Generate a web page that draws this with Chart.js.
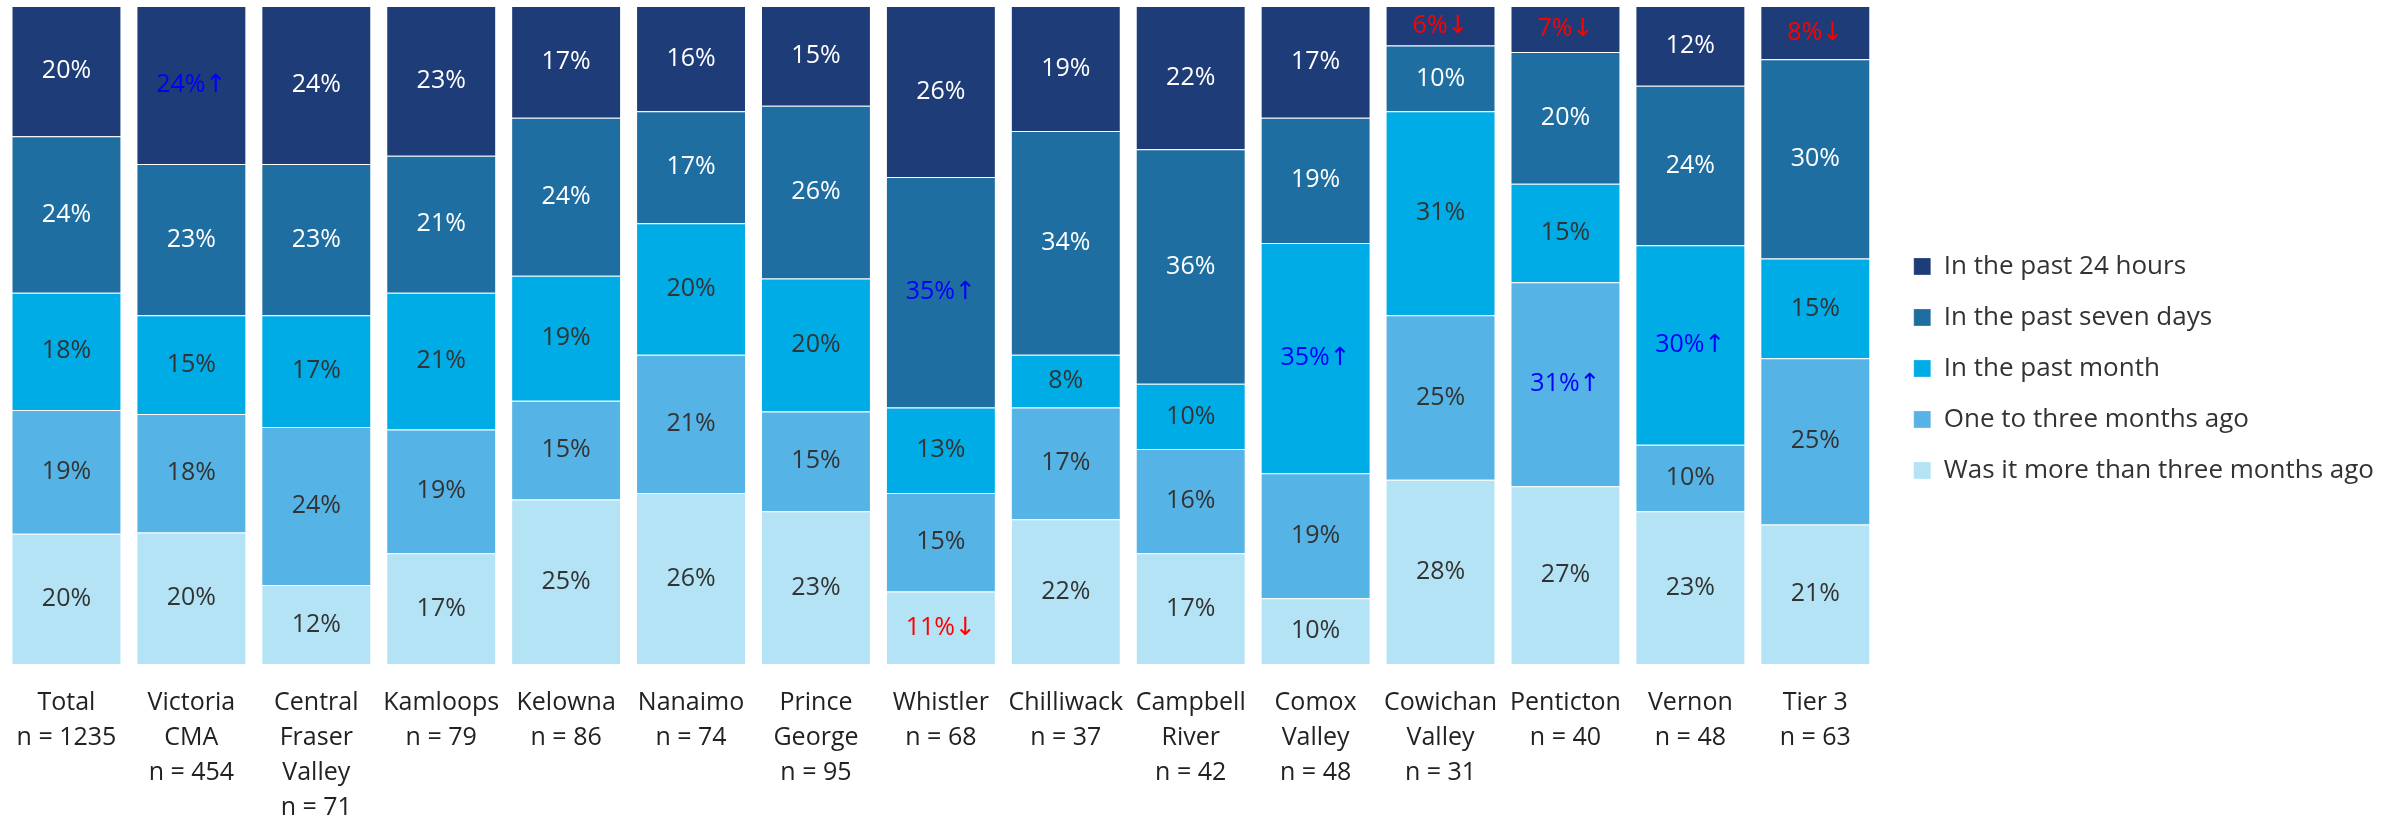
<!DOCTYPE html>
<html>
<head>
<meta charset="utf-8">
<script src="https://cdn.jsdelivr.net/npm/chart.js@4.4.0/dist/chart.umd.min.js"></script>
<style>
  html, body { margin: 0; padding: 0; background: #fff; }
  #wrap { width: 2384px; height: 821px; }
</style>
</head>
<body>
<div id="wrap"><canvas id="chart"></canvas></div>
<script>
const categories = [
  ['Total', 'n = 1235'], ['Victoria', 'CMA', 'n = 454'], ['Central', 'Fraser', 'Valley', 'n = 71'],
  ['Kamloops', 'n = 79'], ['Kelowna', 'n = 86'], ['Nanaimo', 'n = 74'], ['Prince', 'George', 'n = 95'],
  ['Whistler', 'n = 68'], ['Chilliwack', 'n = 37'], ['Campbell', 'River', 'n = 42'], ['Comox', 'Valley', 'n = 48'],
  ['Cowichan', 'Valley', 'n = 31'], ['Penticton', 'n = 40'], ['Vernon', 'n = 48'], ['Tier 3', 'n = 63']
];

const past24 = [20, 24, 24, 23, 17, 16, 15, 26, 19, 22, 17, 6, 7, 12, 8];
const past7 = [24, 23, 23, 21, 24, 17, 26, 35, 34, 36, 19, 10, 20, 24, 30];
const pastMonth = [18, 15, 17, 21, 19, 20, 20, 13, 8, 10, 35, 31, 15, 30, 15];
const oneToThree = [19, 18, 24, 19, 15, 21, 15, 15, 17, 16, 19, 25, 31, 10, 25];
const moreThanThree = [20, 20, 12, 17, 25, 26, 23, 11, 22, 17, 10, 28, 27, 23, 21];

// significance markers
const past24Marks = ['', '↑', '', '', '', '', '', '', '', '', '', '↓', '↓', '', '↓'];
const past7Marks = ['', '', '', '', '', '', '', '↑', '', '', '', '', '', '', ''];
const pastMonthMarks = ['', '', '', '', '', '', '', '', '', '', '↑', '', '', '↑', ''];
const oneToThreeMarks = ['', '', '', '', '', '', '', '', '', '', '', '', '↑', '', ''];
const moreThanThreeMarks = ['', '', '', '', '', '', '', '↓', '', '', '', '', '', '', ''];

const totals = categories.map((c, i) => past24[i] + past7[i] + pastMonth[i] + oneToThree[i] + moreThanThree[i]);
const share = arr => arr.map((v, i) => v / totals[i] * 100);

const font = '"Open Sans", "DejaVu Sans", sans-serif';

const segmentLabels = {
  id: 'segmentLabels',
  afterDatasetsDraw(chart) {
    const ctx = chart.ctx;
    ctx.save();
    ctx.font = '25px ' + font;
    ctx.textAlign = 'center';
    ctx.textBaseline = 'middle';
    chart.data.datasets.forEach((ds, i) => {
      chart.getDatasetMeta(i).data.forEach((bar, j) => {
        const mark = ds.marks[j];
        ctx.fillStyle = mark === '↑' ? '#0000ff' : mark === '↓' ? '#ff0000' : ds.labelColor;
        ctx.fillText(ds.raw[j] + '%' + mark, bar.x, (bar.y + bar.base) / 2);
      });
    });
    ctx.restore();
  }
};

const makeSet = (label, values, marks, color, labelColor) => ({
  label: label,
  data: share(values),
  raw: values,
  marks: marks,
  labelColor: labelColor,
  backgroundColor: color,
  borderColor: 'rgba(255,255,255,0.25)',
  borderWidth: 1
});

new Chart(document.getElementById('chart'), {
  type: 'bar',
  data: {
    labels: categories,
    datasets: [
      makeSet('Was it more than three months ago', moreThanThree, moreThanThreeMarks, '#b3e3f5', '#333333'),
      makeSet('One to three months ago', oneToThree, oneToThreeMarks, '#55b3e6', '#333333'),
      makeSet('In the past month', pastMonth, pastMonthMarks, '#00ace6', '#333333'),
      makeSet('In the past seven days', past7, past7Marks, '#1f6ea1', '#ffffff'),
      makeSet('In the past 24 hours', past24, past24Marks, '#1e3c77', '#ffffff')
    ]
  },
  options: {
    responsive: true,
    maintainAspectRatio: false,
    animation: false,
    barPercentage: 1,
    categoryPercentage: 0.88,
    layout: { padding: { top: 6, left: 4, right: 0, bottom: 0 } },
    plugins: {
      tooltip: { enabled: false },
      legend: {
        position: 'right',
        align: 'start',
        reverse: true,
        title: { display: true, text: '', font: { size: 12 }, padding: { top: 208, bottom: 0 } },
        labels: {
          boxWidth: 17,
          boxHeight: 17,
          padding: 25,
          color: '#333333',
          font: { family: font, size: 26 }
        }
      }
    },
    scales: {
      x: {
        stacked: true,
        grid: { display: false },
        border: { display: false },
        afterFit(axis) { axis.height = 157; },
        ticks: {
          color: '#222222',
          autoSkip: false,
          maxRotation: 0,
          padding: 13,
          font: { family: font, size: 25, lineHeight: 1.4 }
        }
      },
      y: {
        stacked: true,
        min: 0,
        max: 100,
        position: 'right',
        grid: { display: false },
        border: { display: false },
        ticks: { display: false },
        afterFit(axis) { axis.width = 11; }
      }
    }
  },
  plugins: [segmentLabels]
});
</script>
</body>
</html>
